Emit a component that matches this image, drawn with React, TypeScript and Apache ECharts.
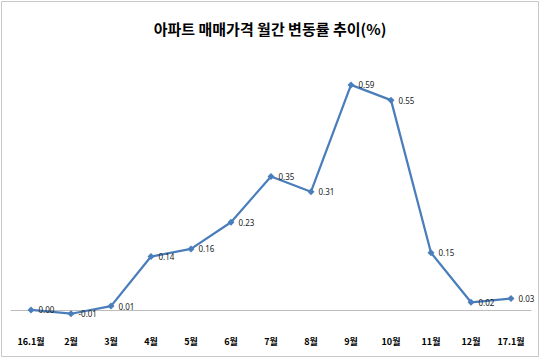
import React, { useEffect, useRef } from "react";
import * as echarts from "echarts";

const categories = ["16.1월", "2월", "3월", "4월", "5월", "6월", "7월", "8월", "9월", "10월", "11월", "12월", "17.1월"];
const values = [0.0, -0.01, 0.01, 0.14, 0.16, 0.23, 0.35, 0.31, 0.59, 0.55, 0.15, 0.02, 0.03];
const titleText = "아파트 매매가격 월간 변동률 추이(%)";

export default function App() {
  const ref = useRef<HTMLDivElement>(null);
  useEffect(() => {
    document.body.style.margin = "0";
    const chart = echarts.init(ref.current!, null, { renderer: "svg" });
    chart.setOption({
      animation: false,
      backgroundColor: "#ffffff",
      textStyle: { fontFamily: "'Noto Sans CJK KR', 'Noto Sans', sans-serif" },
      title: {
        text: titleText,
        left: "center",
        top: 16,
        textStyle: { fontSize: 15, fontWeight: "bold", color: "#000", fontFamily: "'Noto Sans CJK KR', sans-serif" },
      },
      graphic: [
        {
          type: "rect",
          shape: { x: 1.5, y: 1.5, width: 537, height: 355 },
          style: { fill: "none", stroke: "#c8c8c8", lineWidth: 1 },
          silent: true,
        },
      ],
      grid: { left: 11, right: 9, top: 62, height: 267 },
      xAxis: {
        type: "category",
        data: categories,
        boundaryGap: true,
        axisLine: { onZero: true, lineStyle: { color: "#bdbdbd", width: 1 } },
        axisTick: { show: false },
        axisLabel: { fontSize: 9, color: "#000", fontWeight: "bold", margin: 8, interval: 0, fontFamily: "'Noto Sans CJK KR', sans-serif" },
      },
      yAxis: {
        type: "value",
        min: -0.05,
        max: 0.65,
        show: false,
        splitLine: { show: false },
      },
      series: [
        {
          type: "line",
          data: values,
          symbol: "diamond",
          symbolSize: 7,
          lineStyle: { color: "#4a7ebb", width: 2.25 },
          itemStyle: { color: "#4a7ebb" },
          label: {
            show: true,
            position: "right",
            distance: 4,
            fontSize: 8,
            color: "#222",
            formatter: (p: any) => p.value.toFixed(2),
            fontFamily: "'Noto Sans', sans-serif",
          },
        },
      ],
    });
    return () => chart.dispose();
  }, []);
  return <div ref={ref} style={{ position: "absolute", left: 0, top: 0, width: 540, height: 358 }} />;
}
